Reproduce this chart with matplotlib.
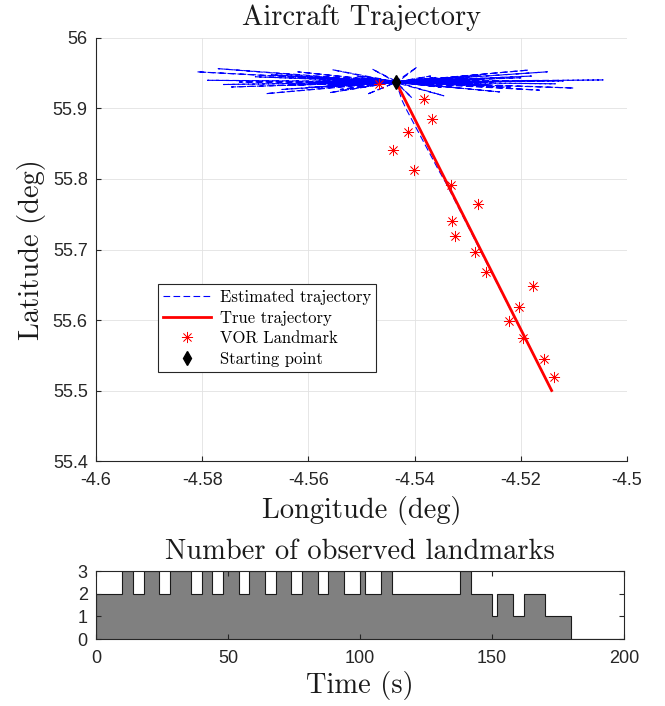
import matplotlib.pyplot as plt
import numpy as np

plt.rcParams['axes.unicode_minus'] = False
plt.rcParams['font.family'] = ['Liberation Sans', 'DejaVu Sans']

SERIF = 'cmr10'

# --- trajectory data (deg) ---
start_lon, start_lat = -4.5435, 55.9376

true_lon = [-4.5435, -4.5142]
true_lat = [55.9376, 55.5000]

vor_lon = [-4.54665, -4.53832, -4.53667, -4.54124, -4.54412, -4.54006, -4.53309, -4.52802, -4.53290,
           -4.53239, -4.52868, -4.52655, -4.51765, -4.52034, -4.52217, -4.51953, -4.51563, -4.51380]
vor_lat = [55.93433, 55.91319, 55.88468, 55.86667, 55.84071, 55.81234, 55.79121, 55.76482, 55.74000,
           55.71957, 55.69603, 55.66809, 55.64823, 55.61844, 55.59858, 55.57489, 55.54468, 55.51957]

# estimate jumps out sideways from the start point before settling
hub_lon = [-4.5435, -4.5437, -4.5433, -4.5436, -4.5434, -4.5438, -4.5432, -4.5436,
           -4.5435, -4.5433, -4.5437, -4.5434, -4.5436, -4.5432, -4.5435, -4.5438,
           -4.5433, -4.5436, -4.5434, -4.5437, -4.5435, -4.5433, -4.5436, -4.5434,
           -4.5437, -4.5435, -4.5432, -4.5436, -4.5434, -4.5437, -4.5435, -4.5433,
           -4.5436, -4.5434, -4.5437, -4.5435, -4.5433, -4.5436, -4.5434, -4.5435,
           -4.5436, -4.5433, -4.5437, -4.5434, -4.5435, -4.5432, -4.5436, -4.5434,
           -4.5437, -4.5433, -4.5435, -4.5436]
hub_lat = [55.9376, 55.9370, 55.9382, 55.9372, 55.9378, 55.9368, 55.9380, 55.9374,
           55.9377, 55.9371, 55.9381, 55.9373, 55.9379, 55.9369, 55.9376, 55.9372,
           55.9380, 55.9374, 55.9378, 55.9370, 55.9376, 55.9382, 55.9372, 55.9378,
           55.9368, 55.9380, 55.9374, 55.9377, 55.9371, 55.9381, 55.9373, 55.9379,
           55.9369, 55.9376, 55.9372, 55.9380, 55.9374, 55.9378, 55.9370, 55.9376,
           55.9373, 55.9379, 55.9371, 55.9377, 55.9375, 55.9381, 55.9370, 55.9378,
           55.9374, 55.9380, 55.9372, 55.9376]
fan_lon = [-4.5810, -4.5045, -4.5790, -4.5150, -4.5770, -4.5165, -4.5745, -4.5135,
           -4.5700, -4.5200, -4.5680, -4.5240, -4.5650, -4.5275, -4.5620, -4.5315,
           -4.5590, -4.5185, -4.5560, -4.5345, -4.5730, -4.5100, -4.5670, -4.5250,
           -4.5555, -4.5395, -4.5520, -4.5405, -4.5500, -4.5300, -4.5480, -4.5360,
           -4.5490, -4.5220, -4.5760, -4.5120, -4.5640, -4.5180, -4.5600, -4.5270,
           -4.5530, -4.5330, -4.5560, -4.5300, -4.5510, -4.5350, -4.5580, -4.5280,
           -4.5540, -4.5370, -4.5600, -4.5260]
fan_lat = [55.9520, 55.9405, 55.9400, 55.9520, 55.9565, 55.9260, 55.9305, 55.9350,
           55.9450, 55.9435, 55.9210, 55.9235, 55.9270, 55.9475, 55.9520, 55.9290,
           55.9440, 55.9545, 55.9225, 55.9180, 55.9375, 55.9290, 55.9480, 55.9380,
           55.9550, 55.9590, 55.9330, 55.9150, 55.9420, 55.9330, 55.9560, 55.9440,
           55.9200, 55.9300, 55.9340, 55.9390, 55.9330, 55.9460, 55.9300, 55.9410,
           55.9400, 55.9350, 55.9330, 55.9420, 55.9460, 55.9300, 55.9390, 55.9360,
           55.9270, 55.9460, 55.9360, 55.9330]
tail_lon = [-4.5430, -4.5424, -4.5415, -4.5403, -4.5390, -4.5379, -4.5368, -4.5355, -4.5341, -4.5142]
tail_lat = [55.9262, 55.9121, 55.8979, 55.8809, 55.8624, 55.8468, 55.8312, 55.8128, 55.7943, 55.5000]

# --- landmark count ---
t_edges = [0, 10, 14, 18, 24, 28, 36, 40, 44, 48, 54, 58, 64, 68, 74, 78, 84, 88, 94,
           100, 102, 108, 112, 138, 142, 150, 152, 158, 162, 170, 180, 200]
n_obs = [2, 3, 2, 3, 2, 3, 2, 3, 2, 3, 2, 3, 2, 3, 2, 3, 2, 3,
         2, 3, 2, 3, 2, 3, 2, 1, 2, 1, 2, 1, 0]

est_lon = list(np.column_stack([hub_lon, fan_lon]).ravel()) + [start_lon] + tail_lon
est_lat = list(np.column_stack([hub_lat, fan_lat]).ravel()) + [start_lat] + tail_lat

fig = plt.figure(figsize=(6.65, 7.06), dpi=100)

ax = fig.add_axes([0.1444, 0.3470, 0.7985, 0.5992])
ax.plot(est_lon, est_lat, color='b', lw=0.8, ls=(0, (6, 3)), label='Estimated trajectory')
ax.plot(true_lon, true_lat, 'r-', lw=2, label='True trajectory')
ax.plot(vor_lon, vor_lat, ls='none', marker=(8, 2, 0), ms=8, mew=0.5, color='r', label='VOR Landmark')
ax.plot(start_lon, start_lat, 'kd', ms=7, label='Starting point')

ax.set_xlim(-4.6, -4.5)
ax.set_ylim(55.4, 56)
ax.set_xticks([-4.6, -4.58, -4.56, -4.54, -4.52, -4.5])
ax.set_xticklabels(['-4.6', '-4.58', '-4.56', '-4.54', '-4.52', '-4.5'])
ax.set_yticks([55.4, 55.5, 55.6, 55.7, 55.8, 55.9, 56])
ax.set_yticklabels(['55.4', '55.5', '55.6', '55.7', '55.8', '55.9', '56'])
ax.spines['top'].set_visible(False)
ax.spines['right'].set_visible(False)
for s in ['left', 'bottom']:
    ax.spines[s].set_color('0.15')
    ax.spines[s].set_linewidth(0.8)
ax.tick_params(direction='in', length=3.5, width=0.8, color='0.15', labelcolor='0.15', labelsize=13)
ax.tick_params(axis='x', pad=8)
ax.tick_params(axis='y', pad=6)
ax.grid(True, color='#e2e2e2', lw=0.6)
ax.set_axisbelow(True)
ax.set_title('Aircraft Trajectory', family=SERIF, size=20.5, pad=9, color='0.1')
ax.set_xlabel('Longitude (deg)', family=SERIF, size=20.5, labelpad=5, color='0.1')
ax.set_ylabel('Latitude (deg)', family=SERIF, size=20.5, labelpad=5, color='0.1')

leg = ax.legend(loc='upper left', bbox_to_anchor=(0.117, 0.418), prop={'family': SERIF, 'size': 12},
                frameon=True, fancybox=False, edgecolor='0.15', framealpha=1, handlelength=2.9,
                labelspacing=0.32, borderpad=0.3, handletextpad=0.5, borderaxespad=0)
leg.get_frame().set_linewidth(0.8)

ax2 = fig.add_axes([0.1444, 0.0949, 0.7940, 0.0963])
ax2.stairs(n_obs, t_edges, fill=True, facecolor='0.5', edgecolor='0.1', lw=0.8)
ax2.set_xlim(0, 200)
ax2.set_ylim(0, 3)
ax2.set_xticks([0, 50, 100, 150, 200])
ax2.set_yticks([0, 1, 2, 3])
for s in ax2.spines.values():
    s.set_color('0.15')
    s.set_linewidth(0.8)
ax2.tick_params(direction='in', length=3.5, width=0.8, color='0.15', labelcolor='0.15',
                labelsize=13, top=True, right=True)
ax2.tick_params(axis='x', pad=8)
ax2.tick_params(axis='y', pad=6)
ax2.set_title('Number of observed landmarks', family=SERIF, size=20.5, pad=9, color='0.1')
ax2.set_xlabel('Time (s)', family=SERIF, size=20.5, labelpad=3, color='0.1')

fig.savefig('out.png', dpi=100)
